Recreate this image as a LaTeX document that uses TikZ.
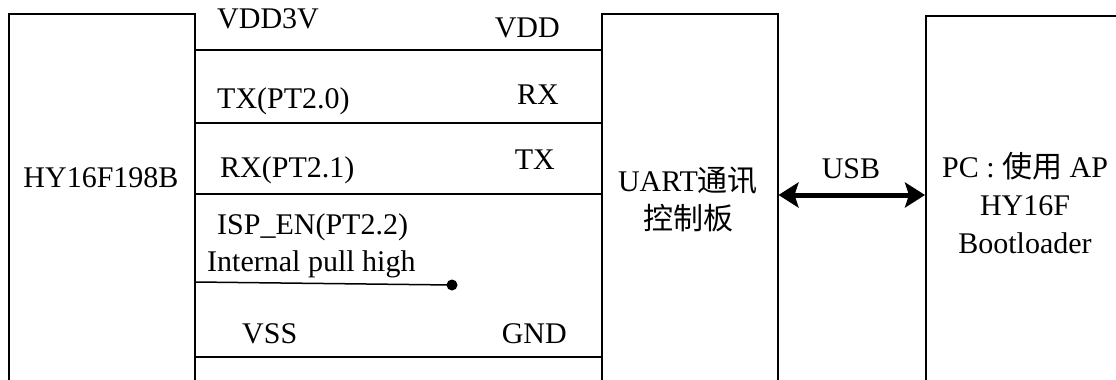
\documentclass[tikz,border=0pt]{standalone}
\usepackage{fontspec}
\setmainfont{Liberation Serif}
\newfontfamily\cjk{Noto Sans CJK SC}
\usetikzlibrary{positioning,arrows.meta}
\tikzset{box/.style={draw, line width=1.5pt, anchor=north west, inner sep=0pt},
    wire/.style={line width=2pt},
    lbl/.style={inner sep=0pt},
    usb link/.style={{Stealth[length=20pt,width=25pt,inset=4pt]}-{Stealth[length=20pt,width=25pt,inset=4pt]},
        line width=5pt}}

\begin{document}
\begin{tikzpicture}[x=1pt, y=-1pt, font=\fontsize{30}{38}\selectfont]
\useasboundingbox (0,0) rectangle (1116,380);
\clip (0,0) rectangle (1116,380);
\node[box, minimum width=186pt, minimum height=420pt] (chip) at (8,13) {};
\node[box, minimum width=176pt, minimum height=420pt] (uart) at (601,13) {};
\node[box, minimum width=260pt, minimum height=420pt] (pc) at (925,15) {};
\node[lbl, anchor=base] (chiptxt) at (101,187) {HY16F198B};
\node[lbl, align=center] (uarttxt) at (688,199) {UART{\cjk 通讯}\\{\cjk 控制板}};
\node[lbl, align=center] (pctxt) at (1025,203) {PC : {\cjk 使用} AP\\HY16F\\Bootloader};
% wires
\draw[wire] (chip.east |- 0,50) -- (uart.west |- 0,50);
\draw[wire] (chip.east |- 0,123) -- (uart.west |- 0,123);
\draw[wire] (chip.east |- 0,194) -- (uart.west |- 0,194);
\draw[wire] (chip.east |- 0,357) -- (uart.west |- 0,357);
\coordinate (pull) at (452,285);
\draw[line width=1.5pt] (chip.east |- 0,282) -- (pull);
\fill (pull) circle (5.5);
% pin names
\node[lbl, anchor=base west] (vddchip) at (217,28) {VDD3V};
\node[lbl, anchor=base east] (vdduart) at (560,37) {VDD};
\node[lbl, anchor=base west] (txchip) at (217,108) {TX(PT2.0)};
\node[lbl, anchor=base east] (rxuart) at (559,104) {RX};
\node[lbl, anchor=base west] (rxchip) at (220,177) {RX(PT2.1)};
\node[lbl, anchor=base east] (txuart) at (555,169) {TX};
\node[lbl, anchor=base west] (ispchip) at (217,234) {ISP\_EN(PT2.2)};
\node[lbl, anchor=base west] (pullhigh) at (207,271) {Internal pull high};
\node[lbl, anchor=base west] (vsschip) at (242,343) {VSS};
\node[lbl, anchor=base east] (gnduart) at (567,343) {GND};
% usb
\draw[usb link] (uart.east |- 0,195) -- (pc.west |- 0,195);
\node[lbl, anchor=base] (usblbl) at (851,178) {USB};
\end{tikzpicture}
\end{document}
